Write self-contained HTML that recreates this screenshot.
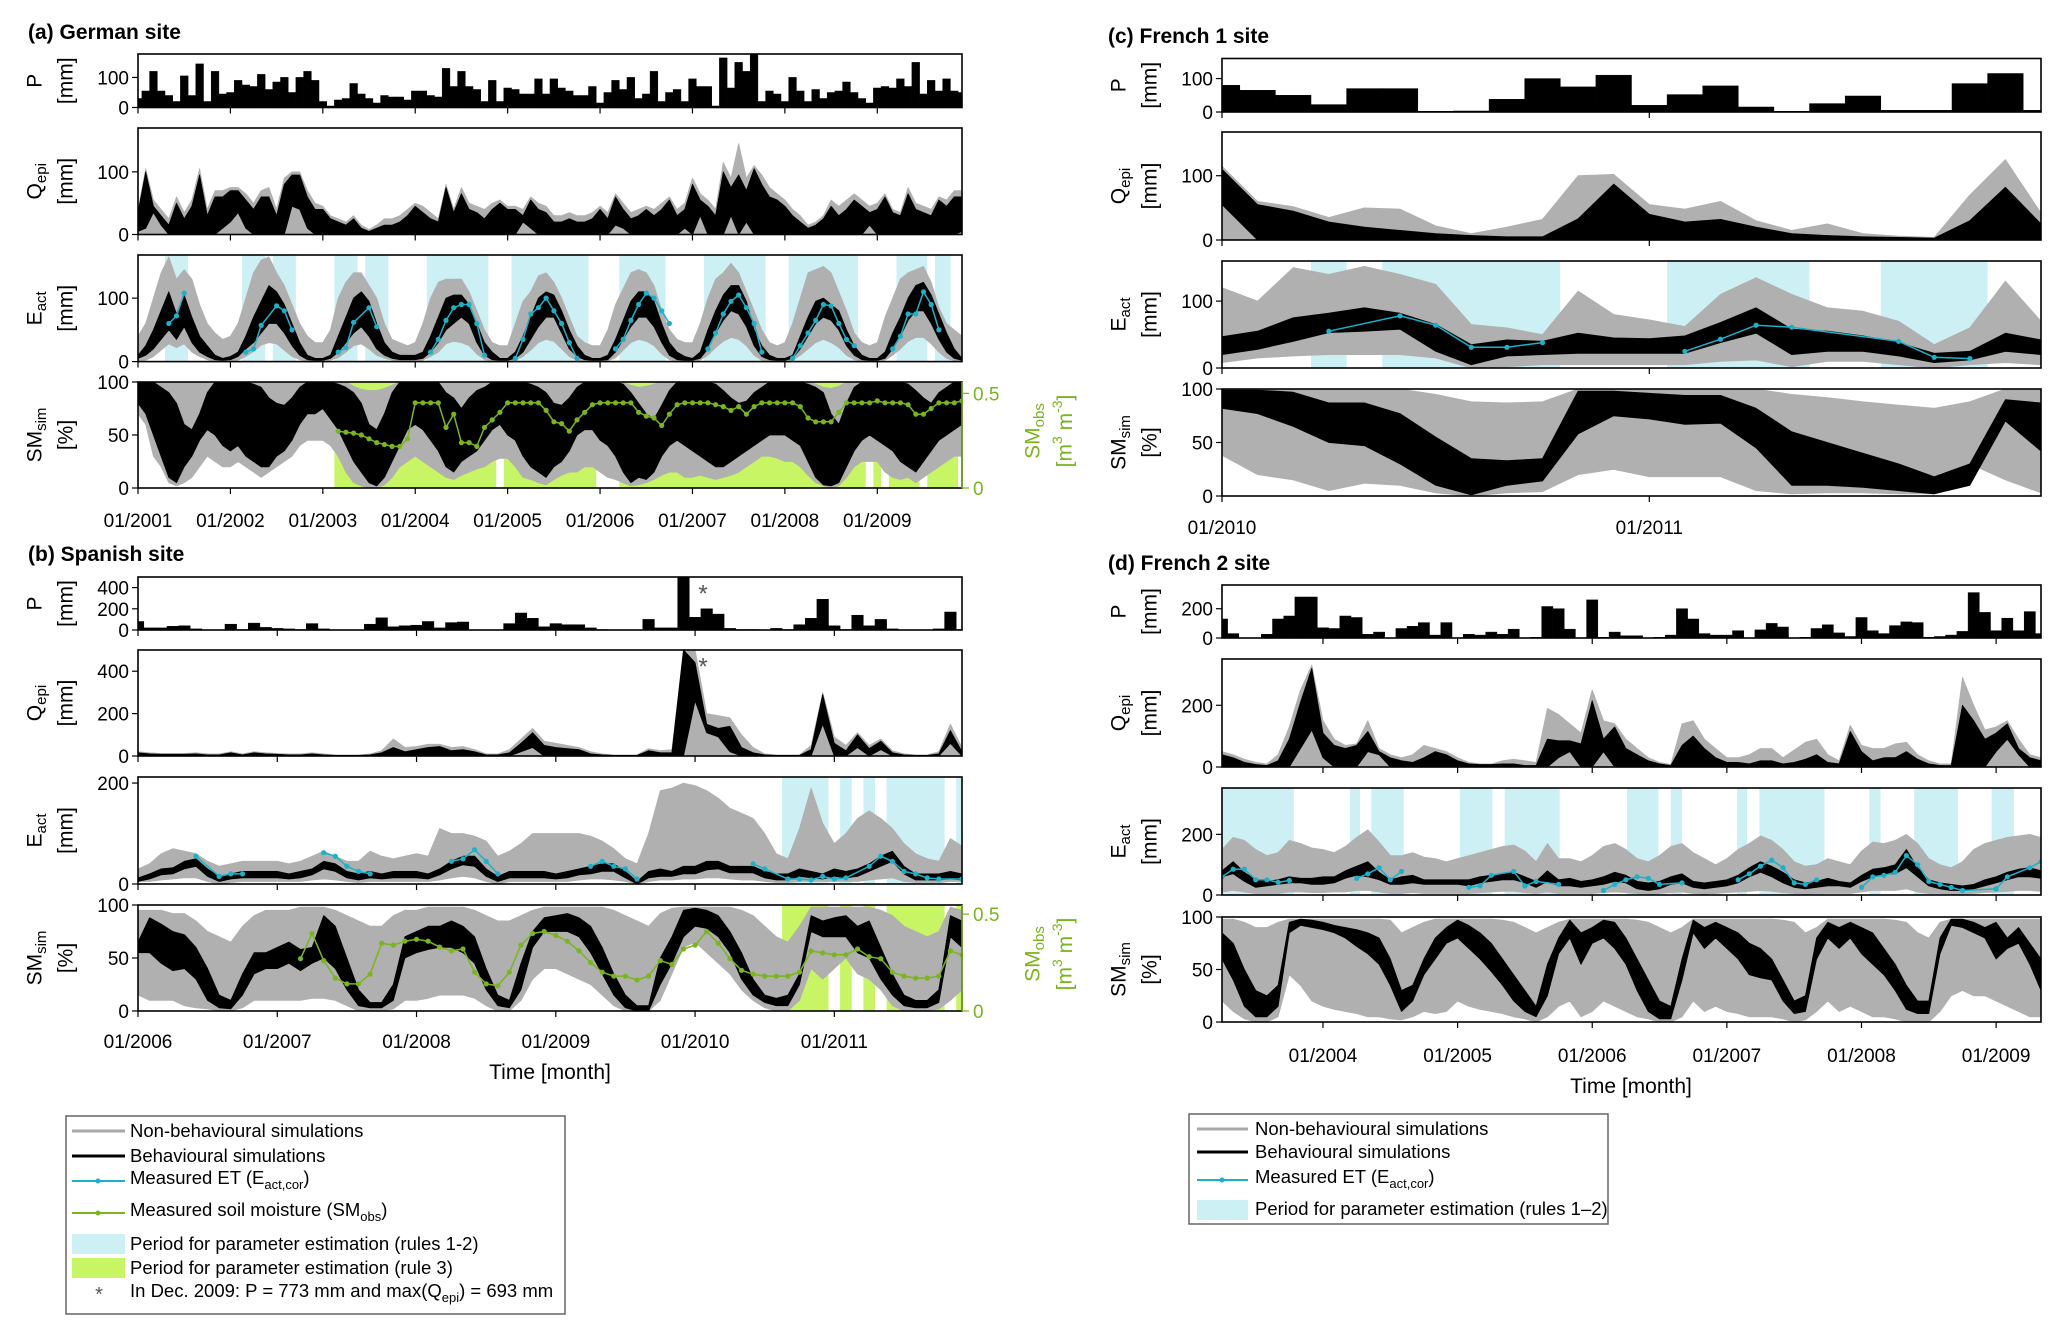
<!DOCTYPE html>
<html><head><meta charset="utf-8"><title>Hydrological simulations at four sites</title>
<style>
html,body{margin:0;padding:0;background:#fff;}
svg{display:block;font-family:"Liberation Sans",Arial,sans-serif;}
</style></head>
<body>
<svg id="chart" width="2067" height="1338" viewBox="0 0 2067 1338" xmlns="http://www.w3.org/2000/svg">
<rect x="0" y="0" width="2067" height="1338" fill="#fff"/>
<text x="28" y="39" font-size="21" font-weight="bold">(a) German site</text>
<text x="28" y="561" font-size="21" font-weight="bold">(b) Spanish site</text>
<text x="1108" y="43" font-size="21" font-weight="bold">(c) French 1 site</text>
<text x="1108" y="570" font-size="21" font-weight="bold">(d) French 2 site</text>
<text x="550" y="1079" font-size="21" text-anchor="middle">Time [month]</text>
<text x="1631" y="1093" font-size="21" text-anchor="middle">Time [month]</text>

<g font-size="18.5">
<rect x="66" y="1116" width="499" height="198" fill="#fff" stroke="#666" stroke-width="1.5"/>
<g><line x1="72" y1="1131" x2="125" y2="1131" stroke="#a8a8a8" stroke-width="3"/><text x="130" y="1137">Non-behavioural simulations</text></g>
<g><line x1="72" y1="1156" x2="125" y2="1156" stroke="#000" stroke-width="3"/><text x="130" y="1162">Behavioural simulations</text></g>
<g><line x1="72" y1="1181" x2="125" y2="1181" stroke="#19b2c9" stroke-width="2"/><circle cx="98" cy="1181" r="2.5" fill="#19b2c9"/><text x="130" y="1184">Measured ET (E<tspan font-size="13" dy="5">act,cor</tspan><tspan dy="-5">)</tspan></text></g>
<g><line x1="72" y1="1213" x2="125" y2="1213" stroke="#7ab51d" stroke-width="2"/><circle cx="98" cy="1213" r="2.5" fill="#7ab51d"/><text x="130" y="1216">Measured soil moisture (SM<tspan font-size="13" dy="5">obs</tspan><tspan dy="-5">)</tspan></text></g>
<g><rect x="72" y="1234" width="53" height="20" fill="#cdf0f5"/><text x="130" y="1250">Period for parameter estimation (rules 1-2)</text></g>
<g><rect x="72" y="1258" width="53" height="20" fill="#c8f564"/><text x="130" y="1274">Period for parameter estimation (rule 3)</text></g>
<g><text x="99" y="1301" text-anchor="middle" fill="#555" font-size="20">*</text><text x="130" y="1297">In Dec. 2009: P = 773 mm and max(Q<tspan font-size="13" dy="5">epi</tspan><tspan dy="-5">) = 693 mm</tspan></text></g>
</g>

<g font-size="18.5">
<rect x="1189" y="1114" width="419" height="110" fill="#fff" stroke="#666" stroke-width="1.5"/>
<g><line x1="1197" y1="1129" x2="1248" y2="1129" stroke="#a8a8a8" stroke-width="3"/><text x="1255" y="1135">Non-behavioural simulations</text></g>
<g><line x1="1197" y1="1152" x2="1248" y2="1152" stroke="#000" stroke-width="3"/><text x="1255" y="1158">Behavioural simulations</text></g>
<g><line x1="1197" y1="1180" x2="1248" y2="1180" stroke="#19b2c9" stroke-width="2"/><circle cx="1222" cy="1180" r="2.5" fill="#19b2c9"/><text x="1255" y="1183">Measured ET (E<tspan font-size="13" dy="5">act,cor</tspan><tspan dy="-5">)</tspan></text></g>
<g><rect x="1197" y="1200" width="51" height="20" fill="#cdf0f5"/><text x="1255" y="1215">Period for parameter estimation (rules 1–2)</text></g>
</g>
</svg>

<script>
// ---------- (a) German site, monthly 01/2001 - 12/2009 ----------
const aYears = ["01/2001","01/2002","01/2003","01/2004","01/2005","01/2006","01/2007","01/2008","01/2009"];
const aP = [30,55,120,55,40,20,105,40,145,20,120,45,
 50,90,75,70,110,60,85,100,50,100,120,90,
 20,5,25,30,80,45,30,15,40,35,35,25,
 55,55,40,35,130,70,120,70,60,20,90,20,
 65,60,45,45,95,45,95,65,55,40,40,70,
 15,50,90,60,100,30,45,120,20,50,60,20,
 95,70,70,5,165,65,150,120,180,20,55,45,
 20,100,55,20,60,30,50,55,85,50,30,15,
 65,70,65,95,70,150,45,90,55,95,55,50];
const aQgHi = [40,105,55,40,25,60,35,55,105,40,70,70,
 75,75,65,50,70,75,40,90,100,100,70,50,
 45,30,25,20,30,15,8,15,25,25,30,40,
 50,45,35,25,80,40,75,50,45,40,50,55,
 45,45,40,60,50,45,30,30,35,30,30,35,
 45,35,65,50,35,40,45,40,50,60,40,50,
 90,65,55,40,115,90,145,90,110,95,75,65,
 55,40,30,15,20,30,55,45,55,65,55,45,
 50,65,40,35,75,50,45,40,60,55,70,70];
const aQbHi = [35,100,45,30,15,50,25,45,95,30,60,60,
 70,70,55,40,60,60,30,80,95,95,60,40,
 40,25,20,15,25,10,5,10,15,15,20,30,
 45,35,25,20,75,35,65,40,35,25,40,50,
 40,40,30,55,40,35,20,20,25,20,20,25,
 40,25,60,40,25,30,40,30,40,55,30,40,
 80,55,45,30,100,75,95,70,105,80,60,55,
 45,30,20,10,15,25,45,30,40,55,45,35,
 40,60,35,30,65,40,35,30,55,45,60,60];
const aQbLo = [5,10,35,15,0,0,0,0,0,0,0,10,
 20,35,10,0,0,0,0,0,45,40,10,0,
 0,0,0,0,0,0,0,0,0,0,0,0,
 0,0,0,0,0,0,0,0,0,0,0,0,
 0,0,20,10,0,0,0,0,0,0,0,0,
 0,0,15,10,0,0,0,0,0,0,0,10,
 0,30,0,0,0,30,0,20,0,0,0,0,
 0,0,0,0,0,0,0,0,0,0,0,15,
 0,0,0,0,0,0,0,0,0,0,0,5];
const aEgHi = [40,60,100,140,165,130,145,130,90,60,45,35,
 40,60,100,140,160,165,140,120,90,60,40,30,
 30,50,100,125,140,140,120,100,60,35,30,25,
 30,60,100,125,130,130,130,110,80,50,30,25,
 25,60,95,110,135,140,125,100,70,40,30,25,
 25,50,90,115,140,145,140,120,80,50,35,30,
 30,60,100,130,140,155,140,110,80,50,30,25,
 30,60,100,140,145,150,140,110,80,45,30,25,
 30,70,100,130,140,145,150,125,85,60,50,40];
const aEgLo = [0,2,8,18,28,22,28,15,8,3,0,0,
 0,2,8,16,26,30,28,18,8,3,0,0,
 0,2,6,15,25,28,20,10,5,2,0,0,
 0,2,8,15,28,32,30,25,12,3,0,0,
 0,2,8,18,30,35,32,20,8,2,0,0,
 0,1,6,18,30,35,32,25,12,3,0,0,
 0,2,10,22,32,38,35,25,10,2,0,0,
 0,2,10,20,30,35,30,22,10,3,0,0,
 0,2,10,20,32,38,38,28,15,5,1,0];
const aEbHi = [10,25,50,80,110,75,105,70,40,25,10,5,
 8,15,40,70,95,120,110,90,60,30,10,5,
 5,10,40,70,100,110,95,60,30,15,10,10,
 10,15,40,70,100,105,105,90,60,30,15,5,
 5,15,40,70,100,110,105,80,50,25,10,5,
 5,10,35,65,95,110,110,95,60,30,15,8,
 5,15,50,80,105,120,120,95,50,25,10,5,
 5,10,40,70,95,100,90,80,50,25,10,5,
 5,15,45,70,100,120,125,105,75,45,20,5];
const aEbLo = [5,10,20,35,50,35,55,30,15,8,3,2,
 3,8,20,30,45,60,60,45,25,10,3,2,
 2,5,15,30,45,55,40,20,10,5,3,3,
 3,5,15,30,50,60,70,60,30,10,3,2,
 2,5,15,35,55,70,70,45,20,8,3,2,
 2,3,15,35,55,70,70,55,30,10,3,2,
 2,5,20,45,65,80,75,55,25,8,3,2,
 2,5,20,40,60,70,65,50,25,10,3,2,
 2,5,20,40,65,80,80,60,35,15,5,2];
const aEobsIdx = [4,5,6,14,15,16,18,19,20,26,27,28,30,31,38,39,40,41,42,43,44,45,49,50,51,52,53,54,55,56,57,62,63,64,65,66,67,68,69,74,75,76,77,78,79,80,81,85,86,87,88,89,90,91,92,93,98,99,100,101,102,103,104];
const aEobsVal = [60,72,108,15,20,57,88,80,50,15,22,62,85,55,15,35,65,85,90,90,60,10,5,35,75,85,100,80,60,30,5,20,35,65,90,108,100,80,60,20,45,75,95,105,85,60,15,5,25,45,65,90,88,60,35,25,20,40,75,75,110,90,50];
const aEspans = [[3.5,6.5],[13.5,16.5],[17.5,20.5],[25.5,28.5],[29.5,32.5],[37.5,45.5],[48.5,58.5],[62.5,68.5],[73.5,81.5],[84.5,93.5],[98.5,102.5],[103.5,105.5]];
const aSMgHi = [100,100,100,100,100,100,100,100,100,100,100,100,
 100,100,100,100,100,100,100,100,100,100,100,100,
 100,100,100,100,96,93,92,92,94,97,100,100,
 100,100,100,100,100,100,100,100,100,100,100,100,
 100,100,100,100,100,100,100,100,100,100,100,100,
 100,100,100,100,97,95,96,98,100,100,100,100,
 100,100,100,100,100,100,100,100,100,100,100,100,
 100,100,100,100,98,95,94,96,100,100,100,100,
 100,100,100,100,100,100,100,100,100,100,100,100];
const aSMgLo = [70,60,30,20,5,2,5,10,20,30,25,20,
 20,25,20,15,10,15,20,25,30,40,45,45,
 45,40,30,15,5,2,0,0,3,10,20,25,
 30,25,20,15,10,8,12,15,18,20,25,28,
 28,20,10,8,5,3,8,12,15,15,20,20,
 15,10,8,5,2,3,5,8,12,15,15,10,
 10,12,10,8,10,12,15,20,25,30,30,28,
 25,25,20,12,5,2,0,2,10,20,25,25,
 25,15,10,8,10,5,10,15,20,25,30,30];
const aSMbHi = [100,100,100,95,90,80,60,55,70,90,100,100,
 100,100,100,98,95,85,80,78,85,95,100,100,
 100,100,98,95,90,80,60,55,70,90,100,100,
 100,100,100,100,90,85,75,85,92,95,100,100,
 100,100,100,98,95,90,80,78,85,95,100,100,
 100,100,100,98,90,80,70,65,78,92,100,100,
 100,100,100,98,92,85,80,82,90,95,100,100,
 100,100,100,98,95,90,70,60,80,95,100,100,
 100,100,100,100,98,92,85,80,90,95,100,100];
const aSMbLo = [80,70,50,30,10,5,20,30,45,55,50,40,
 35,40,30,25,20,20,30,35,45,60,70,70,
 75,65,55,40,25,15,5,2,10,25,40,55,
 60,55,45,35,20,15,25,30,35,45,55,60,
 50,45,30,20,15,10,20,25,35,50,55,55,
 45,40,30,15,5,10,8,15,30,40,45,40,
 35,30,25,20,20,25,30,35,40,45,50,50,
 50,45,40,25,10,3,2,5,20,35,45,50,
 45,40,35,25,20,15,25,35,45,50,55,60];
const aSMobsStart = 26;
const aSMobs = [.30,.295,.29,.28,.26,.24,.23,.22,.22,.26,.45,.45,.45,.45,.32,.39,.24,.24,.22,.32,.36,.40,.45,.45,.45,.45,.45,.41,.35,.34,.30,.36,.40,.44,.45,.45,.45,.45,.45,.40,.38,.37,.33,.39,.44,.45,.45,.45,.45,.44,.43,.41,.43,.39,.43,.45,.45,.45,.45,.45,.43,.37,.35,.35,.35,.40,.45,.45,.45,.45,.46,.45,.45,.45,.44,.39,.39,.42,.45,.45,.45,.46];
const aSMspans = [[25.5,46.5],[47.5,59.5],[62.5,94.5],[95.5,96.5],[97.5,101.5],[102.5,106.5]];

// ---------- (b) Spanish site, monthly 01/2006 - 12/2011 ----------
const bYears = ["01/2006","01/2007","01/2008","01/2009","01/2010","01/2011"];
const bP = [80,20,20,35,40,10,0,0,55,5,65,25,
 15,10,5,60,10,0,0,0,55,115,30,40,
 45,80,20,70,75,0,0,0,60,160,110,30,
 60,50,50,20,5,0,0,0,100,20,20,773,
 120,200,150,15,5,5,0,15,5,50,110,290,
 40,5,140,40,100,10,0,0,0,10,170,5];
const bQgHi = [20,15,12,12,12,15,10,10,20,10,20,15,
 12,10,10,15,10,5,5,5,10,25,80,40,
 45,55,55,40,45,30,10,10,30,80,130,70,
 60,50,40,20,10,5,5,5,35,25,30,500,
 500,200,190,180,100,40,10,5,5,5,50,300,
 90,50,110,50,80,25,10,5,5,20,150,40];
const bQbHi = [15,10,8,8,8,10,5,5,15,5,15,10,
 8,5,5,10,5,3,3,3,5,15,40,20,
 30,40,45,25,30,20,5,5,15,60,110,50,
 40,35,30,10,5,3,3,3,25,15,15,500,
 440,150,130,140,40,15,5,3,3,3,30,290,
 60,25,100,35,70,15,5,3,3,10,120,20];
const bQbLo = [0,0,0,0,0,0,0,0,0,0,0,0,
 0,0,0,0,0,0,0,0,0,0,0,0,
 0,0,0,0,0,0,0,0,0,20,40,0,
 0,0,0,0,0,0,0,0,0,0,0,0,
 260,110,90,20,0,0,0,0,0,0,0,150,
 0,0,40,0,30,0,0,0,0,0,60,0];
const bEgHi = [30,40,60,70,65,60,45,35,40,45,45,45,
 45,40,45,55,65,55,45,45,65,55,50,55,
 60,55,110,100,100,95,85,55,65,80,100,100,
 100,100,100,95,85,70,50,40,100,185,190,200,
 195,185,170,150,140,130,100,60,50,110,190,120,
 80,100,130,145,130,110,80,60,50,45,90,75];
const bEgLo = [5,5,8,10,12,12,5,0,3,5,5,5,
 5,5,5,8,10,8,5,3,5,5,5,5,
 5,5,8,12,15,12,5,0,5,5,5,5,
 5,5,8,10,10,8,5,0,5,8,8,10,
 10,12,12,10,8,8,5,3,3,5,5,5,
 5,5,5,8,10,12,5,3,3,3,5,5];
const bEbHi = [12,20,30,32,45,50,30,15,20,25,25,25,
 25,20,25,30,45,40,25,20,25,20,25,25,
 25,20,30,45,55,55,30,15,25,25,25,25,
 20,25,30,35,40,40,25,5,25,30,25,35,
 35,45,45,35,35,35,25,20,20,30,25,20,
 30,25,30,40,55,65,35,20,20,20,25,20];
const bEbLo = [5,10,18,20,30,35,15,5,10,12,12,12,
 12,10,12,18,30,25,12,8,12,10,12,12,
 12,10,18,30,38,35,15,5,12,12,12,12,
 10,12,18,20,25,25,12,0,12,15,15,20,
 20,28,30,22,22,22,12,8,8,15,12,10,
 15,12,15,25,35,45,20,8,8,8,10,8];
const bEobsIdx = [5,7,8,9,16,17,18,19,20,27,28,29,30,31,39,40,41,42,43,53,54,56,57,58,59,60,61,63,64,65,66,67,68,69,71];
const bEobsVal = [55,15,20,20,62,55,35,25,20,45,50,68,45,20,35,45,35,30,10,40,30,10,10,8,15,10,12,35,55,45,25,20,12,10,10];
const bSpans = [[55.5,59.5],[60.5,61.5],[62.5,63.5],[64.5,69.5],[70.5,71]];
const bSMgHi = [95,95,95,92,92,85,75,70,65,80,90,95,
 95,95,98,98,98,95,90,85,80,80,90,95,
 95,98,98,98,98,95,90,85,85,90,95,98,
 98,98,98,98,98,95,90,85,80,92,97,98,
 98,98,98,98,95,90,80,70,65,80,98,98,
 98,98,98,98,95,90,80,75,70,75,98,95];
const bSMgLo = [15,10,10,10,5,3,2,0,0,3,10,10,
 10,10,10,12,12,10,5,0,0,0,2,10,
 10,12,15,15,15,12,5,0,0,10,30,40,
 40,35,30,25,15,5,0,0,0,10,35,60,
 65,55,45,35,20,10,3,0,0,10,40,30,
 40,50,35,30,20,5,0,0,0,2,10,20];
const bSMbHi = [65,88,82,75,72,60,40,15,10,35,55,55,
 60,65,58,60,90,80,50,20,8,8,25,70,
 75,80,80,85,80,70,40,15,10,45,75,88,
 90,92,88,80,60,35,15,5,5,50,70,95,
 97,95,90,75,55,30,15,12,15,35,90,85,
 88,90,80,85,60,35,15,10,10,20,90,85];
const bSMbLo = [55,55,45,38,40,30,10,3,2,15,35,40,
 40,45,38,45,50,40,20,5,3,3,10,50,
 55,58,60,60,55,45,20,5,3,20,60,75,
 75,75,70,55,35,15,3,0,0,25,45,70,
 80,78,70,55,30,15,8,5,5,25,75,70,
 70,70,55,50,30,15,5,3,3,8,70,60];
const bSMobsStart = 14;
const bSMobs = [.27,.40,.26,.17,.14,.14,.19,.35,.34,.36,.37,.36,.33,.31,.32,.20,.14,.13,.20,.34,.40,.41,.39,.36,.31,.25,.20,.18,.18,.16,.18,.26,.24,.32,.34,.41,.35,.27,.21,.19,.18,.18,.18,.20,.31,.30,.29,.29,.32,.28,.27,.20,.18,.17,.17,.18,.31,.29];

// ---------- (c) French 1 site, monthly 01/2010 - 12/2011 ----------
const cYears = ["01/2010","01/2011"];
const cP = [80,65,50,22,70,70,2,3,38,100,75,110,20,52,78,15,2,25,48,5,5,85,115,5];
const cQgHi = [115,60,52,35,50,48,22,10,20,32,100,102,55,48,60,30,15,25,10,6,4,70,125,42];
const cQbHi = [110,55,45,28,20,15,10,7,5,5,33,87,40,28,32,20,10,7,5,4,3,30,82,25];
const cQbLo = [55,0,0,0,0,0,0,0,0,0,0,0,0,0,0,0,0,0,0,0,0,0,0,0];
const cEgHi = [120,100,150,140,152,140,125,65,60,50,115,80,72,62,110,135,110,90,85,70,35,60,130,70];
const cEgLo = [8,15,18,20,20,20,15,0,2,5,5,5,5,5,10,12,2,10,10,5,0,5,8,5];
const cEbHi = [47,55,75,82,90,82,65,35,42,40,52,45,44,48,68,90,58,55,48,38,22,25,52,42];
const cEbLo = [20,28,40,53,55,58,25,5,18,20,22,22,22,22,38,52,20,25,25,18,8,12,25,20];
const cEobsIdx = [3,5,6,7,8,9,13,14,15,16,19,20,21];
const cEobsVal = [55,78,64,31,31,38,25,43,64,61,40,16,14];
const cEspans = [[2.5,3.5],[4.5,9.5],[12.5,16.5],[18.5,21.5]];
const cSMgHi = [100,100,100,100,100,100,95,88,87,88,100,100,100,100,100,100,95,92,88,85,82,88,100,100];
const cSMgLo = [38,20,15,5,12,10,3,0,3,4,20,25,18,18,18,5,2,3,3,2,2,30,15,3];
const cSMbHi = [99,99,97,87,87,77,55,35,33,35,98,98,96,94,94,82,60,50,40,30,18,30,90,87];
const cSMbLo = [82,77,65,50,47,30,10,1,10,14,58,75,72,67,68,45,10,10,8,5,2,10,70,42];

// ---------- (d) French 2 site, monthly 04/2003 - 05/2009 ----------
const dYears = ["01/2004","01/2005","01/2006","01/2007","01/2008","01/2009"];
const dYearIdx = [9,21,33,45,57,69];
const dP = [130,30,0,0,25,130,150,280,280,70,65,150,140,25,40,0,65,80,105,20,105,0,25,20,40,25,60,0,5,215,200,60,0,260,5,40,15,15,0,5,20,200,130,30,20,20,50,0,55,100,75,0,5,65,90,35,10,140,50,30,85,110,105,5,10,20,45,310,175,50,135,50,180,30];
const dQgHi = [50,40,25,15,10,40,130,250,330,150,90,70,75,150,60,40,30,40,70,60,50,30,15,10,10,20,25,20,15,190,170,140,110,250,150,140,90,60,30,15,8,140,150,90,60,30,30,40,60,60,30,55,80,90,40,20,135,70,60,60,75,80,40,20,10,10,290,200,120,130,150,90,40,30];
const dQbHi = [40,30,15,8,5,20,90,210,320,110,70,60,70,115,50,30,20,15,30,50,40,20,10,8,8,10,10,5,5,90,85,85,75,215,90,130,60,40,20,10,5,70,100,60,30,15,15,10,20,20,10,15,25,40,15,10,115,50,20,30,30,50,25,10,5,5,200,150,90,110,140,60,30,20];
const dQbLo = [0,0,0,0,0,0,0,60,120,30,0,0,0,50,40,0,0,0,0,0,0,0,0,0,0,0,0,0,0,0,30,50,0,0,50,0,0,0,0,0,0,0,0,0,0,0,0,0,0,0,0,0,0,0,0,0,0,0,0,0,0,0,0,0,0,0,0,0,0,50,90,40,0,0];
const dEgHi = [150,190,180,150,130,140,180,170,155,150,140,160,190,215,175,130,130,140,125,120,110,120,130,140,150,160,165,145,110,170,120,120,110,130,160,170,150,120,110,130,160,170,140,120,100,120,150,170,195,180,150,110,95,100,120,110,100,145,175,170,180,200,170,120,100,90,110,150,170,180,190,195,200,190];
const dEgLo = [10,15,10,5,5,5,10,10,8,8,10,10,15,15,10,5,5,8,5,5,5,5,5,8,10,12,12,8,5,10,5,5,5,5,8,10,8,5,3,5,8,10,5,3,5,8,10,12,15,12,8,5,3,5,5,5,5,10,15,15,15,20,10,5,5,3,3,5,8,10,12,15,15,12];
const dEbHi = [80,110,75,50,45,50,60,55,55,60,60,80,95,110,75,50,60,65,50,50,50,50,50,60,65,70,75,60,45,80,50,55,45,50,60,75,65,45,40,45,60,70,45,40,45,50,65,90,110,95,75,50,40,45,55,45,40,65,85,90,100,150,90,50,40,35,30,35,50,60,75,85,90,80];
const dEbLo = [60,70,45,25,30,35,40,40,35,35,40,55,65,60,50,35,35,40,35,35,35,35,30,40,45,50,50,40,25,45,30,30,25,30,35,45,40,20,15,20,35,40,25,20,25,30,40,60,75,60,40,25,20,25,30,30,25,45,60,70,70,90,60,30,20,15,15,20,30,40,50,60,60,55];
const dEobsIdx = [0,1,2,3,4,5,6,12,13,14,15,16,22,23,24,26,27,28,30,34,35,36,37,38,39,41,46,47,48,49,50,51,52,53,57,58,59,60,61,62,63,64,65,66,69,70,72,73];
const dEobsVal = [60,85,85,50,50,42,48,55,70,90,50,78,25,30,65,78,30,45,35,15,35,50,60,55,35,40,50,70,95,115,90,40,35,50,25,60,65,75,130,100,45,35,25,15,20,60,90,110];
const dEspans = [[0,6.4],[11.4,12.3],[13.3,16.2],[21.2,24.1],[25.2,30.1],[36.1,38.9],[40,41],[45.9,46.8],[47.9,53.7],[57.7,58.7],[61.7,65.6],[68.6,70.6]];
const dSMgHi = [98,98,95,90,90,95,98,98,98,98,98,98,98,98,98,97,85,90,95,98,98,98,98,98,98,97,95,90,85,90,95,98,98,98,98,98,98,97,95,90,85,90,98,98,98,98,98,98,98,98,97,95,85,90,98,98,98,98,98,98,97,95,85,80,95,98,98,98,98,98,98,98,98,98];
const dSMgLo = [20,10,3,0,0,5,45,35,20,15,12,10,8,5,5,3,2,5,10,8,10,20,15,12,10,8,5,3,0,5,15,20,5,10,20,15,10,5,3,0,0,5,20,10,15,10,8,5,5,5,3,0,2,10,20,10,15,10,5,5,3,0,0,0,10,25,30,25,25,20,15,10,5,5];
const dSMbHi = [85,75,50,30,25,35,95,98,97,95,92,90,88,85,80,60,30,35,60,80,90,97,92,85,75,60,45,30,15,55,80,97,85,90,97,95,80,60,40,20,15,60,97,90,95,90,85,75,70,60,40,20,25,80,95,90,95,90,85,70,55,35,20,20,80,98,98,95,90,95,80,90,75,60];
const dSMbLo = [60,40,15,5,5,15,85,92,90,88,85,80,72,65,55,35,10,20,45,60,75,80,70,60,48,35,20,10,5,25,65,80,55,75,80,70,55,30,10,3,3,40,85,70,80,70,60,45,42,40,20,8,10,60,80,70,80,65,55,45,30,12,8,8,65,92,90,85,80,60,70,75,55,30];

// ---------- rendering ----------
const NS = 'http://www.w3.org/2000/svg';
const svg = document.getElementById('chart');
function mk(tag, attrs, parent){
  const e = document.createElementNS(NS, tag);
  for (const k in attrs) e.setAttribute(k, attrs[k]);
  (parent || svg).appendChild(e);
  return e;
}
const C = {grey:'#b0b0b0', black:'#000', cyan:'#19b2c9', green:'#7ab51d', blue:'#cdf0f5', lime:'#c8f564'};
let clipId = 0;

function yLabel(g, xA, xB, yc, main, sub, unit){
  const t1 = mk('text', {x:0, y:0, 'font-size':21, 'text-anchor':'middle', 'dominant-baseline':'middle', transform:`translate(${xA},${yc}) rotate(-90)`}, g);
  
  
  t1.appendChild(document.createTextNode(main));
  if (sub){
    const s = mk('tspan', {'font-size':15, dy:6}, t1);
    s.textContent = sub;
  }
  const t2 = mk('text', {x:0, y:0, 'font-size':21, 'text-anchor':'middle', 'dominant-baseline':'middle', transform:`translate(${xB},${yc}) rotate(-90)`}, g);
  
  
  t2.textContent = unit;
}

function band(g, xs, ys, hi, lo, fill, name){
  const pts = [];
  for (let i = 0; i < hi.length; i++) pts.push(xs(i).toFixed(1) + ',' + ys(hi[i]).toFixed(1));
  for (let i = hi.length - 1; i >= 0; i--) pts.push(xs(i).toFixed(1) + ',' + ys(lo ? lo[i] : 0).toFixed(1));
  const p = mk('polygon', {points: pts.join(' '), fill: fill, stroke: fill, 'stroke-width': 0.8, 'stroke-linejoin':'round'}, g);
  
  
}

function obsLine(g, xs, ys, idx, vals, color, name){
  let seg = [];
  const segs = [];
  for (let k = 0; k < idx.length; k++){
    if (k > 0 && idx[k] - idx[k-1] > 3){ segs.push(seg); seg = []; }
    seg.push([xs(idx[k]), ys(vals[k])]);
  }
  segs.push(seg);
  segs.forEach(s => {
    const l = mk('polyline', {points: s.map(p => p[0].toFixed(1)+','+p[1].toFixed(1)).join(' '), fill:'none', stroke:color, 'stroke-width':1.5}, g);
    
    
  });
  for (let k = 0; k < idx.length; k++){
    const c = mk('circle', {cx: xs(idx[k]).toFixed(1), cy: ys(vals[k]).toFixed(1), r: 2.6, fill: color}, g);
    
    
  }
}

function spans(g, xs, y0, y1, list, fill, name){
  list.forEach(s => {
    const r = mk('rect', {x: xs(s[0]).toFixed(1), y: y0, width: (xs(s[1]) - xs(s[0])).toFixed(1), height: y1 - y0, fill: fill}, g);
    
    
  });
}

function drawPanel(cfg){
  const g = mk('g', {});
  
  
  const x0 = cfg.x0, x1 = cfg.x1, n = cfg.n;
  const xs = i => x0 + i * (x1 - x0) / (n - 1);
  cfg.rows.forEach((row, ri) => {
    const rg = mk('g', {}, g);
    
    
    const ys = v => row.y1 - Math.min(v, row.max * 1.02) / row.max * (row.y1 - row.y0);
    const id = 'clip' + (clipId++);
    const cp = mk('clipPath', {id: id}, rg);
    mk('rect', {x: x0, y: row.y0, width: x1 - x0, height: row.y1 - row.y0}, cp);
    const pg = mk('g', {'clip-path': `url(#${id})`}, rg);
    const d = row.data;
    if (row.key === 'p'){
      const bw = (x1 - x0) / (n - 1);
      d.P.forEach((v, i) => {
        const b = mk('rect', {x: (xs(i) - bw/2).toFixed(1), y: ys(v).toFixed(1), width: bw.toFixed(1), height: (row.y1 - ys(v)).toFixed(1), fill: '#000', stroke:'#000', 'stroke-width':0.5}, pg);
        
        
      });
    } else {
      if (d.spans) spans(pg, xs, row.y0, row.y1, d.spans, d.spanFill, d.spanName);
      band(pg, xs, ys, d.gHi, d.gLo, C.grey, 'non-behavioural-envelope');
      band(pg, xs, ys, d.bHi, d.bLo, C.black, 'behavioural-envelope');
      if (d.obsIdx) obsLine(pg, xs, ys, d.obsIdx, d.obsVal, C.cyan, 'measured-et');
      if (d.smObs){
        const idx = d.smObs.map((v, k) => d.smObsStart + k);
        const pct = d.smObs.map(v => v / d.rightMax * 100);
        obsLine(pg, xs, ys, idx, pct, C.green, 'measured-soil-moisture');
      }
    }
    if (row.asterisk){
      const a = mk('text', {x: xs(row.asterisk[0]) + 8, y: ys(row.asterisk[1]) + 14, 'font-size': 24, fill: '#555', 'text-anchor':'middle'}, rg);
      
      
      a.textContent = '*';
    }
    const fr = mk('rect', {x: x0, y: row.y0, width: x1 - x0, height: row.y1 - row.y0, fill: 'none', stroke: '#000', 'stroke-width': 1.6}, rg);
    
    
    row.ticks.forEach(t => {
      const y = ys(t);
      mk('line', {x1: x0 - 6, x2: x0, y1: y, y2: y, stroke: '#000', 'stroke-width': 1.2}, rg);
      const tl = mk('text', {x: x0 - 9, y: y + 7, 'font-size': 19, 'text-anchor': 'end'}, rg);
      
      
      tl.textContent = t;
    });
    yLabel(rg, x0 - 102, x0 - 71, (row.y0 + row.y1) / 2, row.lab, row.sub, row.unit);
    cfg.yearIdx.forEach((yi, k) => {
      const x = xs(yi);
      mk('line', {x1: x, x2: x, y1: row.y1, y2: row.y1 + 6, stroke: '#000', 'stroke-width': 1.2}, rg);
      if (ri === cfg.rows.length - 1){
        const xl = mk('text', {x: x, y: cfg.xlabY, 'font-size': 19, 'text-anchor': 'middle'}, rg);
        
        
        xl.textContent = cfg.years[k];
      }
    });
    if (d && d.smObs){
      mk('line', {x1: x1, x2: x1, y1: row.y0, y2: row.y1, stroke: C.green, 'stroke-width': 1.4}, rg);
      [0, 0.5].forEach(v => {
        const y = ys(v / d.rightMax * 100);
        mk('line', {x1: x1, x2: x1 + 7, y1: y, y2: y, stroke: C.green, 'stroke-width': 1.2}, rg);
        const rl = mk('text', {x: x1 + 11, y: y + 7, 'font-size': 19, fill: C.green}, rg);
        
        
        rl.textContent = v;
      });
      const yc = (row.y0 + row.y1) / 2;
      const r1 = mk('text', {x: 0, y: 0, 'font-size': 21, fill: C.green, 'text-anchor':'middle', 'dominant-baseline':'middle', transform: `translate(${x1 + 72},${yc - 4}) rotate(-90)`}, rg);
      
      
      r1.appendChild(document.createTextNode('SM'));
      const rs = mk('tspan', {'font-size': 15, dy: 6}, r1);
      rs.textContent = 'obs';
      const r2 = mk('text', {x: 0, y: 0, 'font-size': 21, fill: C.green, 'text-anchor':'middle', 'dominant-baseline':'middle', transform: `translate(${x1 + 104},${yc - 4}) rotate(-90)`}, rg);
      
      
      r2.appendChild(document.createTextNode('[m'));
      const s1 = mk('tspan', {'font-size': 14, dy: -8}, r2); s1.textContent = '3';
      const s2 = mk('tspan', {dy: 8}, r2); s2.textContent = ' m';
      const s3 = mk('tspan', {'font-size': 14, dy: -8}, r2); s3.textContent = '-3';
      const s4 = mk('tspan', {dy: 8}, r2); s4.textContent = ']';
    }
  });
}

const yr12 = (k) => k * 12;
drawPanel({name:'panel-german', x0:138, x1:962, n:108, years:aYears, yearIdx:aYears.map((y,k)=>yr12(k)), xlabY:527, rows:[
  {key:'p', y0:54, y1:107.5, max:178, ticks:[0,100], lab:'P', unit:'[mm]', data:{P:aP}},
  {key:'q', y0:128, y1:234.5, max:170, ticks:[0,100], lab:'Q', sub:'epi', unit:'[mm]', data:{gHi:aQgHi, gLo:null, bHi:aQbHi, bLo:aQbLo}},
  {key:'e', y0:255, y1:361.6, max:168, ticks:[0,100], lab:'E', sub:'act', unit:'[mm]', data:{gHi:aEgHi, gLo:aEgLo, bHi:aEbHi, bLo:aEbLo, obsIdx:aEobsIdx, obsVal:aEobsVal, spans:aEspans, spanFill:C.blue, spanName:'calibration-period-rules-1-2'}},
  {key:'sm', y0:382, y1:488, max:100, ticks:[0,50,100], lab:'SM', sub:'sim', unit:'[%]', data:{gHi:aSMgHi, gLo:aSMgLo, bHi:aSMbHi, bLo:aSMbLo, spans:aSMspans, spanFill:C.lime, spanName:'calibration-period-rule-3', smObs:aSMobs, smObsStart:aSMobsStart, rightMax:0.56}}
]});
drawPanel({name:'panel-spanish', x0:138, x1:962, n:72, years:bYears, yearIdx:bYears.map((y,k)=>yr12(k)), xlabY:1048, rows:[
  {key:'p', y0:577, y1:630, max:500, ticks:[0,200,400], lab:'P', unit:'[mm]', data:{P:bP}, asterisk:[48,400]},
  {key:'q', y0:650, y1:756, max:500, ticks:[0,200,400], lab:'Q', sub:'epi', unit:'[mm]', data:{gHi:bQgHi, gLo:null, bHi:bQbHi, bLo:bQbLo}, asterisk:[48,450]},
  {key:'e', y0:777, y1:884, max:212, ticks:[0,200], lab:'E', sub:'act', unit:'[mm]', data:{gHi:bEgHi, gLo:bEgLo, bHi:bEbHi, bLo:bEbLo, obsIdx:bEobsIdx, obsVal:bEobsVal, spans:bSpans, spanFill:C.blue, spanName:'calibration-period-rules-1-2'}},
  {key:'sm', y0:905, y1:1011, max:100, ticks:[0,50,100], lab:'SM', sub:'sim', unit:'[%]', data:{gHi:bSMgHi, gLo:bSMgLo, bHi:bSMbHi, bLo:bSMbLo, spans:bSpans, spanFill:C.lime, spanName:'calibration-period-rule-3', smObs:bSMobs, smObsStart:bSMobsStart, rightMax:0.547}}
]});
drawPanel({name:'panel-french1', x0:1222, x1:2041, n:24, years:cYears, yearIdx:[0,12], xlabY:534, rows:[
  {key:'p', y0:58.5, y1:112, max:160, ticks:[0,100], lab:'P', unit:'[mm]', data:{P:cP}},
  {key:'q', y0:132, y1:240, max:168, ticks:[0,100], lab:'Q', sub:'epi', unit:'[mm]', data:{gHi:cQgHi, gLo:null, bHi:cQbHi, bLo:cQbLo}},
  {key:'e', y0:261, y1:368, max:160, ticks:[0,100], lab:'E', sub:'act', unit:'[mm]', data:{gHi:cEgHi, gLo:cEgLo, bHi:cEbHi, bLo:cEbLo, obsIdx:cEobsIdx, obsVal:cEobsVal, spans:cEspans, spanFill:C.blue, spanName:'calibration-period-rules-1-2'}},
  {key:'sm', y0:389, y1:496, max:100, ticks:[0,50,100], lab:'SM', sub:'sim', unit:'[%]', data:{gHi:cSMgHi, gLo:cSMgLo, bHi:cSMbHi, bLo:cSMbLo}}
]});
drawPanel({name:'panel-french2', x0:1222, x1:2041, n:74, years:dYears, yearIdx:dYearIdx, xlabY:1062, rows:[
  {key:'p', y0:585, y1:638, max:362, ticks:[0,200], lab:'P', unit:'[mm]', data:{P:dP}},
  {key:'q', y0:659, y1:767, max:350, ticks:[0,200], lab:'Q', sub:'epi', unit:'[mm]', data:{gHi:dQgHi, gLo:null, bHi:dQbHi, bLo:dQbLo}},
  {key:'e', y0:788, y1:895, max:353, ticks:[0,200], lab:'E', sub:'act', unit:'[mm]', data:{gHi:dEgHi, gLo:dEgLo, bHi:dEbHi, bLo:dEbLo, obsIdx:dEobsIdx, obsVal:dEobsVal, spans:dEspans, spanFill:C.blue, spanName:'calibration-period-rules-1-2'}},
  {key:'sm', y0:917, y1:1022, max:100, ticks:[0,50,100], lab:'SM', sub:'sim', unit:'[%]', data:{gHi:dSMgHi, gLo:dSMgLo, bHi:dSMbHi, bLo:dSMbLo}}
]});
</script>
</body></html>
